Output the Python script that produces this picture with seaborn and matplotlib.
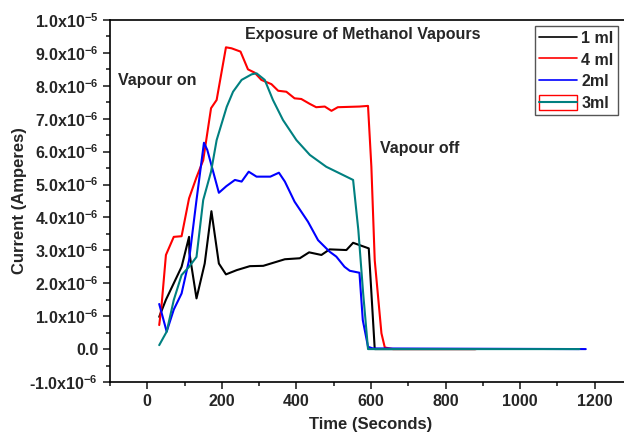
import numpy as np
import pandas as pd
import matplotlib
matplotlib.use("Agg")
import matplotlib.pyplot as plt
import seaborn as sns
from matplotlib.ticker import FuncFormatter, MultipleLocator
from matplotlib.patches import Rectangle
from matplotlib.lines import Line2D
from matplotlib.legend_handler import HandlerTuple

# time (s) and current (uA)
t_1ml = [32, 50, 71, 92, 112, 113, 132, 154, 172, 192, 211, 240, 275, 311, 369, 409, 434, 467, 489, 534, 552, 594, 610, 640, 880]
i_1ml = [0.98, 1.5, 2.0, 2.5, 3.41, 2.92, 1.54, 2.6, 4.19, 2.6, 2.27, 2.4, 2.52, 2.53, 2.73, 2.76, 2.94, 2.86, 3.03, 3.01, 3.23, 3.06, 0.0, 0.0, 0.0]

t_4ml = [32, 38, 50, 71, 92, 112, 132, 150, 171, 186, 211, 226, 250, 270, 288, 306, 333, 351, 373, 395, 413, 436, 453, 476, 494, 511, 569, 592, 601, 610, 628, 637, 659, 882]
i_4ml = [0.73, 1.29, 2.86, 3.41, 3.43, 4.58, 5.22, 5.74, 7.32, 7.57, 9.17, 9.14, 9.04, 8.5, 8.4, 8.18, 8.05, 7.85, 7.82, 7.62, 7.6, 7.45, 7.35, 7.37, 7.24, 7.35, 7.37, 7.39, 5.54, 2.7, 0.48, 0.05, 0.0, 0.0]

t_2ml = [32, 52, 71, 92, 112, 132, 152, 161, 192, 212, 235, 253, 272, 293, 330, 353, 369, 395, 431, 458, 489, 507, 529, 543, 569, 578, 592, 605, 1176]
i_2ml = [1.37, 0.53, 1.2, 1.69, 2.7, 4.53, 6.27, 6.05, 4.75, 4.95, 5.14, 5.09, 5.39, 5.24, 5.24, 5.36, 5.09, 4.48, 3.87, 3.31, 2.96, 2.81, 2.5, 2.38, 2.32, 0.88, 0.07, 0.02, 0.0]

t_3ml = [32, 52, 71, 92, 112, 132, 150, 171, 186, 213, 230, 253, 280, 293, 315, 337, 364, 400, 436, 480, 525, 552, 566, 579, 592, 1159]
i_3ml = [0.12, 0.53, 1.49, 2.25, 2.5, 2.8, 4.53, 5.39, 6.35, 7.36, 7.82, 8.18, 8.35, 8.38, 8.18, 7.57, 6.96, 6.35, 5.9, 5.54, 5.29, 5.14, 3.62, 1.69, 0.0, 0.0]

labels = ["1 ml", "4 ml", "2ml", "3ml"]
colors = ["black", "#ff0000", "#0000ff", "#008080"]

sns.set_style("ticks")
plt.rcParams["font.family"] = ["Liberation Sans", "DejaVu Sans"]
plt.rcParams["font.weight"] = "bold"
plt.rcParams["mathtext.fontset"] = "custom"
plt.rcParams["mathtext.rm"] = "Liberation Sans:bold"
plt.rcParams["mathtext.default"] = "rm"

fig = plt.figure(figsize=(6.24, 4.45), dpi=100)
ax = fig.add_axes([110 / 624, 1 - 382 / 445, 522 / 624, 362 / 445])

series = [(t_1ml, i_1ml), (t_4ml, i_4ml), (t_2ml, i_2ml), (t_3ml, i_3ml)]
for (t, cur), lab, col in zip(series, labels, colors):
    df = pd.DataFrame({"t": t, "i": np.array(cur) * 1e-6})
    sns.lineplot(data=df, x="t", y="i", color=col, lw=1.5, estimator=None,
                 sort=False, ax=ax, legend=False)

ax.set_xlim(-100, 1300)
ax.set_ylim(-1e-6, 1e-5)
ax.xaxis.set_major_locator(MultipleLocator(200))
ax.xaxis.set_minor_locator(MultipleLocator(100))
ax.yaxis.set_major_locator(MultipleLocator(1e-6))
ax.yaxis.set_minor_locator(MultipleLocator(5e-7))


def fmt(v, pos):
    if abs(v) < 1e-12:
        return "0.0"
    e = int(np.floor(np.log10(abs(v)) + 1e-9))
    m = v / 10 ** e
    return f"{m:.1f}x10$^{{{e}}}$"


ax.yaxis.set_major_formatter(FuncFormatter(fmt))
ax.tick_params(which="major", length=5, width=1.2, labelsize=11.5, direction="out")
ax.tick_params(which="minor", length=3, width=1.2, direction="out")
for lbl in ax.get_xticklabels() + ax.get_yticklabels():
    lbl.set_fontweight("bold")
for sp in ax.spines.values():
    sp.set_linewidth(1.2)
    sp.set_color("black")
ax.spines["right"].set_visible(False)

ax.set_xlabel("Time (Seconds)", fontsize=12, fontweight="bold", labelpad=6)
ax.set_ylabel("Current (Amperes)", fontsize=12, fontweight="bold", labelpad=2)

fig.text(245 / 624, 1 - 35 / 445, "Exposure of Methanol Vapours", fontsize=11.5,
         fontweight="bold", va="center", ha="left")
fig.text(118 / 624, 1 - 80 / 445, "Vapour on", fontsize=11.5, fontweight="bold",
         va="center", ha="left")
fig.text(380 / 624, 1 - 149 / 445, "Vapour off", fontsize=11.5, fontweight="bold",
         va="center", ha="left")

handles = [Line2D([], [], color=c, lw=1.2) for c in colors[:3]]
handles.append((Rectangle((0, 0), 1, 1, facecolor="none", edgecolor="#ff0000", lw=1),
                Line2D([], [], color=colors[3], lw=1.5)))
leg = ax.legend(handles, labels, loc="upper left",
                bbox_to_anchor=(535 / 624, 1 - 26 / 445), bbox_transform=fig.transFigure,
                handler_map={tuple: HandlerTuple(ndivide=1, pad=0)},
                fancybox=False, framealpha=1, edgecolor="#555555",
                prop={"weight": "bold", "size": 11.5}, handlelength=2.4,
                handleheight=1.1, handletextpad=0.25, labelspacing=0.35,
                borderpad=0.25, borderaxespad=0)
leg.get_frame().set_linewidth(1)

fig.savefig("out.png", dpi=100)
